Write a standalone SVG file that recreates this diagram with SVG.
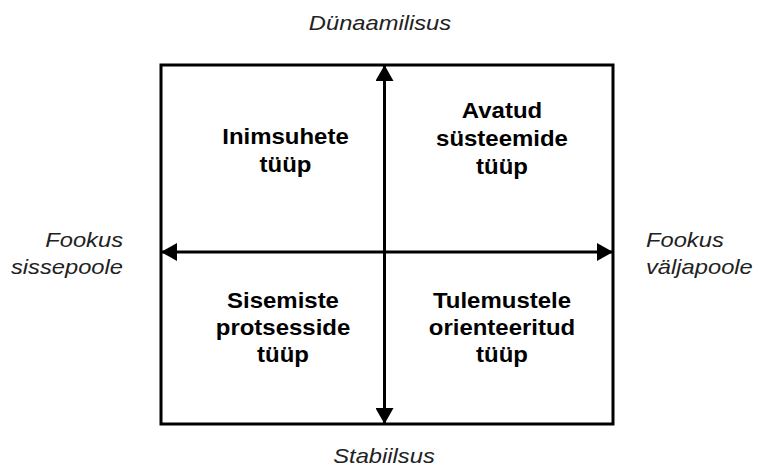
<svg xmlns="http://www.w3.org/2000/svg" width="757" height="469" viewBox="0 0 757 469">
<style>
.q{font-family:"Liberation Sans",Arial,sans-serif;font-weight:bold;font-size:22px;fill:#000;text-anchor:middle}
.l{font-family:"Liberation Sans",Arial,sans-serif;font-style:italic;font-size:21px;fill:#222}
.ln{stroke:#000;stroke-width:3;fill:none}
</style>
<defs>
<marker id="ah" viewBox="0 0 16 18" refX="16" refY="9" markerWidth="16" markerHeight="18" markerUnits="userSpaceOnUse" orient="auto-start-reverse">
<path d="M0,0 L16,9 L0,18 z" fill="#000"/>
</marker>
</defs>
<rect width="757" height="469" fill="#fff"/>
<g id="frame"><rect x="161" y="65" width="452" height="359" class="ln"/></g>
<g id="connectors">
<line x1="384.5" y1="424" x2="384.5" y2="65" class="ln" marker-start="url(#ah)" marker-end="url(#ah)"/>
<line x1="161" y1="252" x2="613" y2="252" class="ln" marker-start="url(#ah)" marker-end="url(#ah)"/>
</g>
<g id="q1"><text class="q" transform="translate(285.5,0) scale(1.09,1)"><tspan x="0" y="144">Inimsuhete</tspan><tspan x="0" y="172">tüüp</tspan></text></g>
<g id="q2"><text class="q" transform="translate(502,0) scale(1.09,1)"><tspan x="0" y="118">Avatud</tspan><tspan x="0" y="146">süsteemide</tspan><tspan x="0" y="174">tüüp</tspan></text></g>
<g id="q3"><text class="q" transform="translate(283,0) scale(1.09,1)"><tspan x="0" y="308">Sisemiste</tspan><tspan x="0" y="335">protsesside</tspan><tspan x="0" y="362">tüüp</tspan></text></g>
<g id="q4"><text class="q" transform="translate(502,0) scale(1.09,1)"><tspan x="0" y="308">Tulemustele</tspan><tspan x="0" y="335">orienteeritud</tspan><tspan x="0" y="362">tüüp</tspan></text></g>
<g id="top"><text class="l" text-anchor="middle" transform="translate(380,0) scale(1.13,1)" x="0" y="30">Dünaamilisus</text></g>
<g id="bottom"><text class="l" text-anchor="middle" transform="translate(384,0) scale(1.13,1)" x="0" y="463">Stabiilsus</text></g>
<g id="left"><text class="l" text-anchor="end" transform="translate(123,0) scale(1.13,1)"><tspan x="0" y="247">Fookus</tspan><tspan x="0" y="274">sissepoole</tspan></text></g>
<g id="right"><text class="l" text-anchor="start" transform="translate(646,0) scale(1.13,1)"><tspan x="0" y="247">Fookus</tspan><tspan x="0" y="274">väljapoole</tspan></text></g>
</svg>
